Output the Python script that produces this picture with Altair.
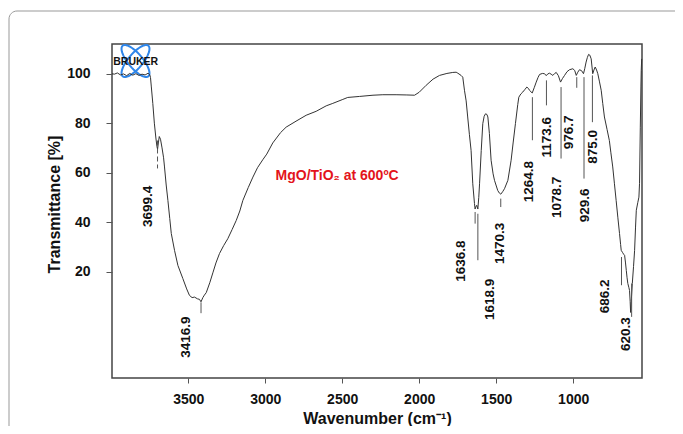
import altair as alt
import pandas as pd
import numpy as np

# ---- spectrum ----
wavenumber = [3995, 3980, 3960, 3940, 3920, 3900, 3880, 3860, 3840, 3820, 3800, 3780, 3760, 3750, 3745,
              3740, 3730, 3720, 3710, 3703, 3699, 3694, 3688, 3680, 3670, 3660, 3654, 3643, 3632, 3620,
              3610, 3589, 3567, 3535, 3510, 3492, 3475, 3459, 3440, 3427, 3417, 3405, 3395, 3383, 3360,
              3340, 3320, 3297, 3270, 3243, 3215, 3188, 3165, 3145, 3110, 3080, 3050, 3016, 2990, 2951,
              2900, 2864, 2800, 2734, 2669, 2604, 2561, 2500, 2464, 2388, 2300, 2236, 2150, 2080, 2030,
              2000, 1955, 1910, 1868, 1820, 1782, 1760, 1749, 1728, 1717, 1706, 1695, 1685, 1674, 1663,
              1652, 1641, 1637, 1630, 1626, 1619, 1613, 1608, 1597, 1587, 1578, 1569, 1560, 1554, 1544,
              1533, 1520, 1511, 1490, 1480, 1470, 1458, 1446, 1424, 1403, 1390, 1375, 1360, 1353, 1340,
              1327, 1315, 1301, 1290, 1284, 1266, 1252, 1240, 1228, 1218, 1200, 1186, 1175, 1165, 1154,
              1143, 1132, 1120, 1110, 1096, 1082, 1070, 1056, 1040, 1024, 1002, 990, 980, 970, 959,
              945, 933, 925, 916, 908, 900, 892, 883, 873, 865, 857, 848, 840, 830, 818,
              808, 797, 780, 765, 755, 743, 732, 721, 710, 699, 692, 688, 680, 672, 666,
              660, 655, 650, 645, 638, 634, 630, 627, 622, 616, 608, 601, 595, 590, 580,
              573, 569, 564, 560, 558, 555]
transmittance = [100.0, 99.8, 100.3, 99.5, 99.9, 99.2, 100.1, 99.4, 100.0, 99.3, 99.8, 99.5, 100.2, 99.6, 98.5,
                 95.0, 88.0, 80.0, 74.0, 70.5, 69.5, 72.0, 74.6, 73.5, 70.0, 66.0, 62.3, 55.0, 48.8, 41.5,
                 35.4, 28.6, 22.5, 17.2, 13.0, 10.4, 9.5, 9.7, 9.0, 8.8, 7.8, 9.5, 10.5, 11.5, 15.5,
                 19.5, 23.5, 27.3, 30.5, 33.3, 37.0, 40.7, 44.5, 48.8, 54.0, 58.2, 62.0, 65.2, 67.5, 72.0,
                 76.2, 78.4, 80.8, 83.2, 84.8, 87.0, 88.0, 89.5, 90.4, 90.8, 91.3, 91.5, 91.5, 91.4, 91.3,
                 92.5, 95.3, 97.8, 99.3, 100.1, 100.5, 100.6, 100.2, 99.3, 98.6, 93.3, 89.0, 82.5, 75.5, 69.0,
                 55.5, 47.5, 45.3, 46.5, 46.8, 45.3, 50.0, 55.5, 69.0, 79.8, 82.8, 83.8, 83.5, 82.5, 75.8,
                 65.0, 59.5, 56.9, 52.8, 51.8, 51.3, 52.3, 53.5, 56.9, 65.0, 72.0, 79.8, 87.5, 90.5, 91.8,
                 92.6, 93.5, 94.6, 94.0, 93.3, 92.2, 94.5, 96.6, 98.5, 99.7, 100.1, 100.0, 99.2, 99.9, 100.2,
                 99.8, 99.3, 100.1, 100.5, 99.2, 96.6, 98.0, 99.3, 100.8, 101.6, 102.0, 101.3, 99.3, 100.6, 101.6,
                 101.2, 100.0, 102.0, 104.7, 106.5, 107.8, 107.5, 106.0, 100.0, 101.5, 102.7, 101.5, 100.0, 97.0, 93.3,
                 88.0, 82.5, 77.5, 73.0, 68.0, 62.3, 55.5, 48.8, 42.0, 35.4, 31.0, 28.6, 27.8, 27.0, 26.6,
                 23.5, 20.5, 17.5, 15.2, 13.5, 12.4, 8.0, 3.5, 9.0, 15.2, 22.0, 28.6, 38.0, 44.8, 48.0,
                 50.1, 55.7, 78.4, 95.0, 101.3, 106.0]

# ---- peak annotations ----
peak_text = ["3699.4", "3416.9", "1636.8", "1618.9", "1470.3", "1264.8", "1173.6",
             "1078.7", "976.7", "929.6", "875.0", "686.2", "620.3"]
peak_wn = [3699.4, 3416.9, 1636.8, 1618.9, 1470.3, 1264.8, 1173.6,
           1078.7, 976.7, 929.6, 875.0, 686.2, 620.3]
marker_top = [73.0, 7.6, 44.1, 43.4, 49.5, 90.5, 97.3, 94.6, 98.6, 98.6, 99.3, 25.9, 15.2]
marker_bottom = [61.7, 3.2, 39.4, 24.6, 46.1, 73.1, 87.2, 65.7, 94.3, 57.6, 80.4, 14.5, 1.7]
marker_dashed = [True] + [False] * 12
label_wn = [3764, 3517, 1727, 1543, 1472, 1290, 1167, 1102, 1030, 922, 868, 792, 654]
label_t = [46.4, -6.5, 24.2, 8.8, 31.4, 56.4, 74.3, 50.0, 76.3, 46.8, 70.4, 10.0, -5.3]

x_ticks = [3500, 3000, 2500, 2000, 1500, 1000]
y_ticks = [20, 40, 60, 80, 100]

sample_text = ["MgO/TiO\u2082 at 600\u00baC"]
sample_wn = [2933]
sample_t = [58.5]

FONT = "Liberation Sans"

spec = pd.DataFrame({"wn": wavenumber, "t": transmittance})
peaks = pd.DataFrame({"text": peak_text, "wn": peak_wn, "top": marker_top, "bottom": marker_bottom,
                      "dashed": marker_dashed, "lx": label_wn, "ly": label_t})
samp = pd.DataFrame({"text": sample_text, "wn": sample_wn, "t": sample_t})

xscale = alt.Scale(domain=[553, 3995], reverse=True, nice=False, zero=False)
yscale = alt.Scale(domain=[-23, 112], nice=False, zero=False)

xax = alt.Axis(values=x_ticks, format="d", title="Wavenumber (cm\u207b\u00b9)", grid=False, domain=False,
               tickSize=5, tickColor="#555", labelPadding=9, labelFontSize=14, labelFontWeight="bold",
               labelFont=FONT, labelColor="#111", titleFont=FONT, titleFontSize=16, titleFontWeight="bold",
               titleColor="#111", titlePadding=4, labelFlush=False)
yax = alt.Axis(values=y_ticks, format="d", title="Transmittance [%]", grid=False, domain=False,
               tickSize=6, tickColor="#555", labelPadding=16, labelFontSize=14, labelFontWeight="bold",
               labelFont=FONT, labelColor="#111", titleFont=FONT, titleFontSize=16, titleFontWeight="bold",
               titleColor="#111", titlePadding=4, titleY=160, labelFlush=False)

# outer rounded border (decoration)
border = alt.Chart(pd.DataFrame({"a": [0]})).mark_rect(
    fill=None, stroke="#999", strokeWidth=1, cornerRadius=8
).encode(x=alt.value(-103), x2=alt.value(600), y=alt.value(-33), y2=alt.value(420))

line = alt.Chart(spec).mark_line(color="#333", strokeWidth=1).encode(
    x=alt.X("wn:Q", scale=xscale, axis=xax),
    y=alt.Y("t:Q", scale=yscale, axis=yax),
    order="wn:Q",
)

markers_solid = alt.Chart(peaks).transform_filter("!datum.dashed").mark_rule(
    color="#555", strokeWidth=1).encode(
    x=alt.X("wn:Q", scale=xscale), y=alt.Y("top:Q", scale=yscale), y2="bottom:Q")
markers_dash = alt.Chart(peaks).transform_filter("datum.dashed").mark_rule(
    color="#555", strokeWidth=1, strokeDash=[5, 3]).encode(
    x=alt.X("wn:Q", scale=xscale), y=alt.Y("top:Q", scale=yscale), y2="bottom:Q")

labels = alt.Chart(peaks).mark_text(
    angle=270, align="center", baseline="middle", font=FONT, fontSize=13.5, fontWeight="bold", color="#111"
).encode(x=alt.X("lx:Q", scale=xscale), y=alt.Y("ly:Q", scale=yscale), text="text:N")

sample = alt.Chart(samp).mark_text(
    align="left", baseline="middle", font=FONT, fontSize=14, fontWeight="bold", color="#e3141b"
).encode(x=alt.X("wn:Q", scale=xscale), y=alt.Y("t:Q", scale=yscale), text="text:N")

# Bruker logo (decoration)
def ellipse_path(a, b, ang, n=48):
    th = np.linspace(0, 2 * np.pi, n, endpoint=False)
    xs = a * np.cos(th)
    ys = b * np.sin(th)
    c, s = np.cos(ang), np.sin(ang)
    xr = xs * c - ys * s
    yr = xs * s + ys * c
    pts = [f"{x:.3f},{y:.3f}" for x, y in zip(xr, yr)]
    return "M" + " L".join(pts) + " Z"

logo_df = pd.DataFrame({"a": [0]})
ell1 = alt.Chart(logo_df).mark_point(
    shape=ellipse_path(1.0, 0.36, np.deg2rad(50)), size=1600, filled=False,
    stroke="#2f86ea", strokeWidth=2, opacity=1
).encode(x=alt.value(23.5), y=alt.value(17))
ell2 = alt.Chart(logo_df).mark_point(
    shape=ellipse_path(1.0, 0.36, np.deg2rad(-50)), size=1600, filled=False,
    stroke="#2f86ea", strokeWidth=2, opacity=1
).encode(x=alt.value(23.5), y=alt.value(17))
logo_txt = alt.Chart(logo_df).mark_text(
    text="BRUKER", font=FONT, fontSize=10.5, fontWeight="bold", color="#111",
    align="center", baseline="middle"
).encode(x=alt.value(23.7), y=alt.value(18))

chart = alt.layer(border, ell1, ell2, logo_txt, line, markers_solid, markers_dash, labels, sample).properties(
    width=530, height=334,
    padding={"left": 104, "top": 36, "right": 33, "bottom": 48},
    autosize=alt.AutoSizeParams(type="none"),
    background="white",
).configure_view(stroke="#444", strokeWidth=1.5)

chart.save("out.html", embed_options={"renderer": "svg", "actions": False})
